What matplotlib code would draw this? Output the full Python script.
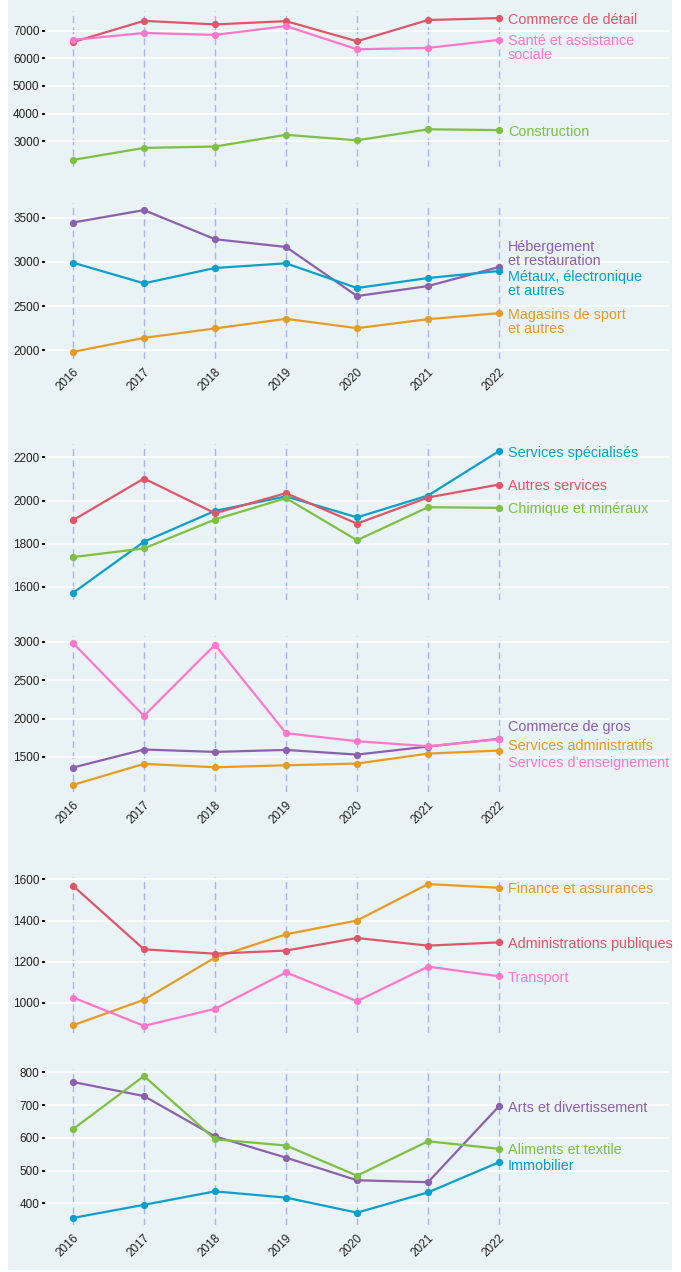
import matplotlib.pyplot as plt
from matplotlib.patches import Rectangle

plt.rcParams['font.family'] = ['Liberation Sans', 'DejaVu Sans']

# Annees
years = [2016, 2017, 2018, 2019, 2020, 2021, 2022]

# Panneau 1
commerce_detail = [6590, 7360, 7230, 7350, 6620, 7390, 7460]
sante_social = [6670, 6920, 6850, 7170, 6330, 6380, 6670]
construction = [2320, 2755, 2805, 3230, 3030, 3430, 3400]

# Panneau 2
hebergement = [3447, 3588, 3258, 3170, 2614, 2727, 2943]
metaux = [2992, 2758, 2932, 2985, 2705, 2818, 2898]
magasins_sport = [1981, 2140, 2247, 2356, 2250, 2352, 2420]

# Panneau 3
services_specialises = [1572, 1809, 1952, 2019, 1922, 2023, 2229]
autres_services = [1909, 2102, 1941, 2034, 1893, 2014, 2074]
chimique_mineraux = [1738, 1778, 1912, 2011, 1816, 1969, 1966]

# Panneau 4
commerce_gros = [1361, 1596, 1565, 1591, 1530, 1635, 1735]
services_admin = [1135, 1409, 1365, 1391, 1413, 1543, 1583]
services_enseignement = [2983, 2035, 2961, 1809, 1704, 1639, 1730]

# Panneau 5
finance_assurances = [891, 1015, 1220, 1333, 1400, 1577, 1559]
admin_publiques = [1569, 1260, 1239, 1254, 1315, 1278, 1294]
transport = [1026, 888, 971, 1148, 1008, 1176, 1129]

# Panneau 6
arts_divertissement = [771, 728, 605, 540, 471, 465, 697]
aliments_textile = [627, 789, 596, 577, 485, 590, 567]
immobilier = [356, 396, 437, 418, 372, 434, 526]

# Graduations y
ticks_1 = [3000, 4000, 5000, 6000, 7000]
ticks_2 = [2000, 2500, 3000, 3500]
ticks_3 = [1600, 1800, 2000, 2200]
ticks_4 = [1500, 2000, 2500, 3000]
ticks_5 = [1000, 1200, 1400, 1600]
ticks_6 = [400, 500, 600, 700, 800]

RED = '#E05668'
PINK = '#FF77CB'
GREEN = '#7EC042'
PURPLE = '#8B61AB'
BLUE = '#0BA0CC'
ORANGE = '#E69B23'
BG = '#E9F2F5'

# (haut du panneau en px, series, ticks, labels x visibles)
# chaque serie: (nom, valeurs, couleur, decalage vertical de l'etiquette en px)
panels = [
    (11, [("Commerce de détail", commerce_detail, RED, 0),
          ("Santé et assistance\nsociale", sante_social, PINK, 0),
          ("Construction", construction, GREEN, 0)], ticks_1, False),
    (203, [("Hébergement\net restauration", hebergement, PURPLE, -22),
           ("Métaux, électronique\net autres", metaux, BLUE, 5),
           ("Magasins de sport\net autres", magasins_sport, ORANGE, 0)], ticks_2, True),
    (444, [("Services spécialisés", services_specialises, BLUE, 0),
           ("Autres services", autres_services, RED, 0),
           ("Chimique et minéraux", chimique_mineraux, GREEN, 0)], ticks_3, False),
    (636, [("Commerce de gros", commerce_gros, PURPLE, -13),
           ("Services administratifs", services_admin, ORANGE, -6),
           ("Services d\u2019enseignement", services_enseignement, PINK, 22)], ticks_4, True),
    (877, [("Finance et assurances", finance_assurances, ORANGE, 0),
           ("Administrations publiques", admin_publiques, RED, 0),
           ("Transport", transport, PINK, 0)], ticks_5, False),
    (1069, [("Arts et divertissement", arts_divertissement, PURPLE, 0),
            ("Aliments et textile", aliments_textile, GREEN, 0),
            ("Immobilier", immobilier, BLUE, 2)], ticks_6, True),
]

W, H = 681, 1272
LINE_PX = 14  # hauteur d'une ligne d'etiquette
fig = plt.figure(figsize=(W / 100, H / 100), dpi=100)
fig.add_artist(Rectangle((8 / W, 2 / H), 664 / W, 1270 / H, transform=fig.transFigure,
                         facecolor=BG, edgecolor='none', zorder=-10))

left_px, right_px, height_px = 45, 669, 156

for top_px, series, yticks, show_x in panels:
    ax = fig.add_axes([left_px / W, 1 - (top_px + height_px) / H,
                       (right_px - left_px) / W, height_px / H])
    ax.set_facecolor('none')
    for s in ax.spines.values():
        s.set_visible(False)

    for name, vals, color, shift in series:
        ax.plot(years, vals, color=color, lw=1.6, marker='o', ms=4.2, zorder=3, clip_on=False)
        # premiere ligne de l'etiquette centree sur le dernier point
        extra = LINE_PX / 2 * name.count('\n')
        ax.annotate(name, (years[-1], vals[-1]), xytext=(6.5, -(shift + extra) * 0.72),
                    textcoords='offset points', ha='left', va='center_baseline',
                    color=color, fontsize=10.4, linespacing=1.0, annotation_clip=False)

    ax.set_xlim(2015.606, 2024.394)
    ax.margins(y=0.05)
    ax.set_yticks(yticks)
    ax.set_xticks(years)
    ax.grid(axis='y', color='white', lw=1.1, zorder=0)
    ax.grid(axis='x', color='#AAB4F5', lw=1.0, ls=(0, (5, 3)), zorder=1)
    ax.set_axisbelow(True)
    ax.tick_params(axis='y', length=2, width=1.3, color='black', pad=2,
                   labelsize=8.5, labelcolor='#222222')
    ax.tick_params(axis='x', length=0, pad=5, labelsize=8.5, labelcolor='#222222')
    if show_x:
        ax.set_xticklabels([str(y) for y in years], rotation=45, ha='right',
                           va='top', rotation_mode='anchor')
    else:
        ax.set_xticklabels([])

fig.savefig('out.png', dpi=100, facecolor='white')
